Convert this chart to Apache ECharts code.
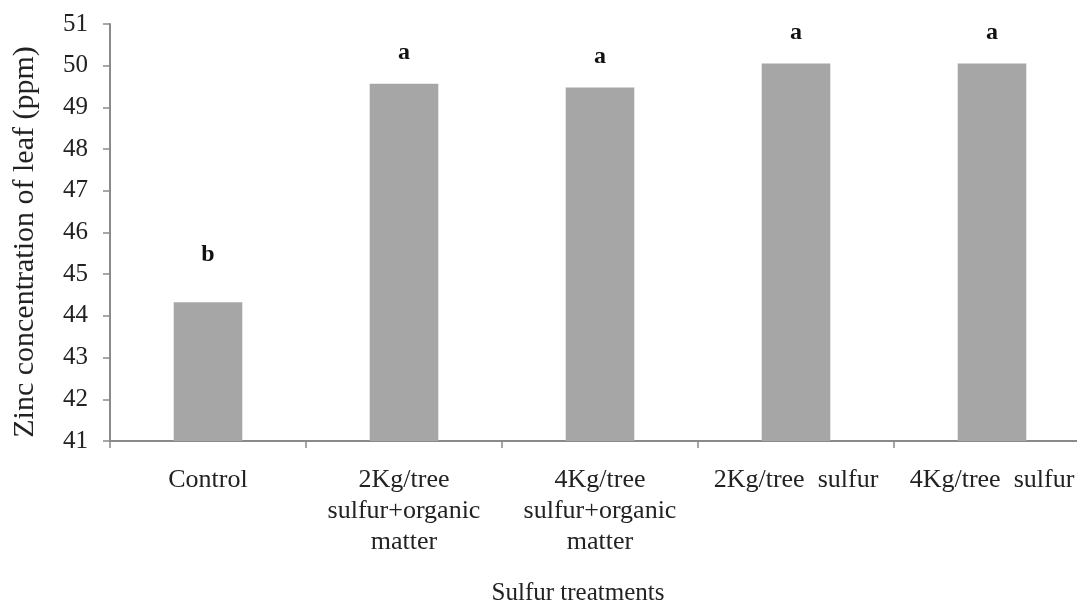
<!DOCTYPE html>
<html>
<head>
<meta charset="utf-8">
<script src="https://cdn.jsdelivr.net/npm/echarts@6/dist/echarts.min.js"></script>
<style>html,body{margin:0;padding:0;background:#fff;}#c{width:1077px;height:605px;}</style>
</head>
<body>
<div id="c"></div>
<script>
const categories = [
  "Control",
  "2Kg/tree\nsulfur+organic\nmatter",
  "4Kg/tree\nsulfur+organic\nmatter",
  "2Kg/tree  sulfur",
  "4Kg/tree  sulfur"
];
const zincValues = [44.33, 49.57, 49.48, 50.05, 50.05];
const groupLetters = ["b", "a", "a", "a", "a"];
const yTicks = { min: 41, max: 51, interval: 1 };
const yTitle = "Zinc concentration of leaf (ppm)";
const xTitle = "Sulfur treatments";

const serif = "Liberation Serif";
const chart = echarts.init(document.getElementById('c'));
const barData = zincValues.map((v, i) => ({
  value: v,
  label: { distance: groupLetters[i] === "b" ? 35 : 19 }
}));
chart.setOption({
  animation: false,
  backgroundColor: '#fff',
  grid: { left: 110, top: 24, bottom: 164, right: -13, containLabel: false, outerBoundsMode: 'none' },
  xAxis: {
    type: 'category',
    data: categories,
    axisLine: { lineStyle: { color: '#8a8a8a', width: 2 } },
    axisTick: { show: true, length: 7, lineStyle: { color: '#8a8a8a', width: 1.5 } },
    axisLabel: { interval: 0, margin: 24, fontFamily: serif, fontSize: 26, lineHeight: 31, color: '#222' }
  },
  yAxis: {
    type: 'value',
    min: yTicks.min, max: yTicks.max, interval: yTicks.interval,
    axisLine: { show: true, lineStyle: { color: '#8a8a8a', width: 2 } },
    axisTick: { show: true, length: 7, lineStyle: { color: '#8a8a8a', width: 1.5 } },
    splitLine: { show: false },
    axisLabel: { margin: 22, fontFamily: serif, fontSize: 25, color: '#222' }
  },
  graphic: [{
    type: 'text',
    x: 578, y: 581,
    style: { text: xTitle, fontFamily: serif, fontSize: 25, fill: '#222', textAlign: 'center' }
  }, {
    type: 'text',
    x: 25, y: 242,
    rotation: Math.PI / 2,
    style: { text: yTitle, fontFamily: serif, fontSize: 30, fill: '#222', textAlign: 'center', textVerticalAlign: 'middle' }
  }],
  series: [{
    type: 'bar',
    data: barData,
    barWidth: '35%',
    itemStyle: { color: '#a6a6a6' },
    label: {
      show: true,
      position: 'top',
      formatter: p => groupLetters[p.dataIndex],
      fontFamily: serif,
      fontWeight: 'bold',
      fontSize: 24,
      color: '#111'
    }
  }]
});
</script>
</body>
</html>
